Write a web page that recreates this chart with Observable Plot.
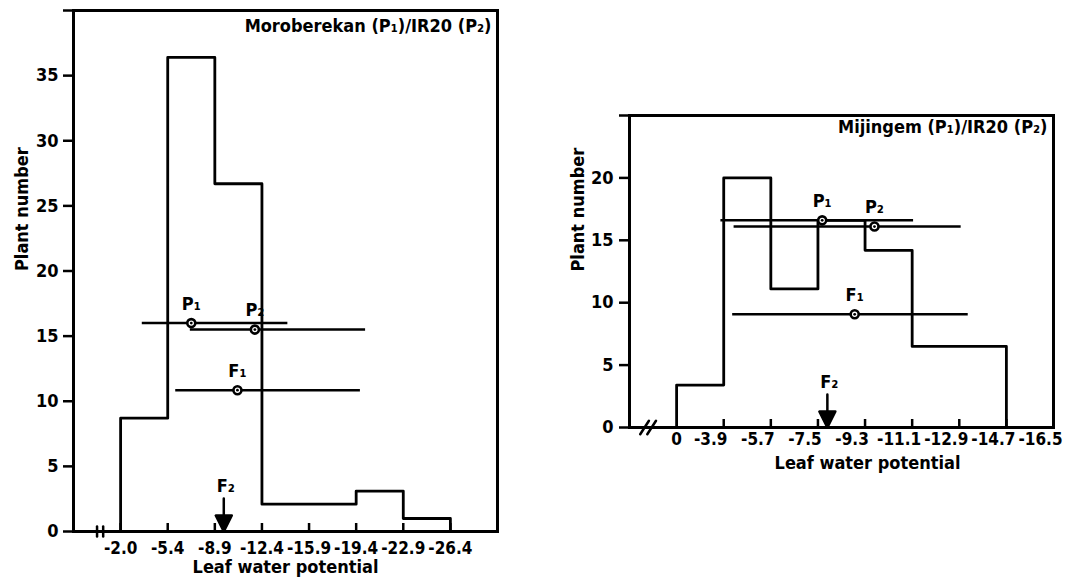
<!DOCTYPE html>
<html><head><meta charset="utf-8">
<script src="https://cdn.jsdelivr.net/npm/d3@7"></script>
<script src="https://cdn.jsdelivr.net/npm/@observablehq/plot@0.6"></script>
<style>
html,body{margin:0;padding:0;background:#fff;}
#wrap{position:relative;width:1065px;height:584px;overflow:hidden;background:#fff;}
#left{position:absolute;left:0;top:0;}
#right{position:absolute;left:540px;top:0;}
svg{overflow:visible}
</style></head><body>
<div id="wrap"><div id="left"></div><div id="right"></div></div>
<script>
// ---- Left panel: Moroberekan (P1) / IR20 (P2)
const leftTitle = "Moroberekan (P₁)/IR20 (P₂)";
const leftEdges = ["-2.0","-5.4","-8.9","-12.4","-15.9","-19.4","-22.9","-26.4"];
const leftCounts = [8.7, 36.4, 26.7, 2.1, 2.1, 3.1, 1.0];
const leftMarkers = ["P₁","P₂","F₁"];
const leftMeans = [1.5, 2.85, 2.48];      // position on the binned axis (edge index units)
const leftMeanY = [16.0, 15.5, 10.85];
const leftLow = [0.46, 1.48, 1.17];
const leftHigh = [3.55, 5.2, 5.09];
const leftF2 = [2.19];
const leftYTicks = [0, 5, 10, 15, 20, 25, 30, 35, 40];
const leftBreak = [-0.50, -0.37];

// ---- Right panel: Mijingem (P1) / IR20 (P2)
const rightTitle = "Mijingem (P₁)/IR20 (P₂)";
const rightEdges = ["0","-3.9","-5.7","-7.5","-9.3","-11.1","-12.9","-14.7","-16.5"];
const rightCounts = [3.4, 20.0, 11.1, 16.6, 14.2, 6.5, 6.5];
const rightMarkers = ["P₁","P₂","F₁"];
const rightMeans = [3.09, 4.2, 3.78];
const rightMeanY = [16.6, 16.1, 9.07];
const rightLow = [0.94, 1.22, 1.19];
const rightHigh = [5.03, 6.04, 6.19];
const rightF2 = [3.2];
const rightYTicks = [0, 5, 10, 15, 20, 25];
const rightBreak = [-0.68, -0.53];

const FONT = "'DejaVu Sans Condensed', 'Liberation Sans Narrow', 'DejaVu Sans', sans-serif";

const lineShape = {draw(ctx, l) { ctx.moveTo(0, 0); ctx.lineTo(0, -l); }};
const arrowShape = {draw(ctx, l) {
  ctx.moveTo(0, 0); ctx.lineTo(0, -l + 12);
  ctx.moveTo(-8, -l + 16); ctx.lineTo(0, -l); ctx.lineTo(8, -l + 16); ctx.closePath();
}};

function steps(counts) {
  const pts = [{x: 0, y: 0}];
  counts.forEach((c, i) => pts.push({x: i, y: c}));
  pts.push({x: counts.length, y: 0});
  return pts;
}

function panel(o) {
  const idx = d3.range(o.markers.length);
  const nEdges = o.edges.length;
  const labelTicks = o.zeroSeparate ? d3.range(1, nEdges) : d3.range(nEdges);
  const marks = [
    Plot.frame({strokeWidth: 3}),
    Plot.axisY({ticks: o.yTicks, tickSize: 10, tickPadding: o.yPad, strokeWidth: 2.5,
      tickFormat: d => d === o.yMax ? "" : d, label: null}),
    Plot.axisX({ticks: o.tickMarks, tickSize: -8, tickFormat: () => "", strokeWidth: 2.5, label: null}),
    Plot.axisX({ticks: labelTicks, tickSize: 0, tickPadding: o.xPad, dx: o.labelDx, fontSize: "17px",
      tickFormat: i => o.edges[i], label: null}),
    o.zeroSeparate ? Plot.axisX({ticks: [0], tickSize: 0, tickPadding: o.xPad, fontSize: "17px",
      tickFormat: i => o.edges[i], label: null}) : null,
    Plot.vector(o.breaks, {x: d => d, y: 0, length: o.breakLen, rotate: o.breakRot, anchor: "middle",
      shape: lineShape, stroke: "black", strokeWidth: 2.5}),
    Plot.line(steps(o.counts), {x: "x", y: "y", curve: "step-after", stroke: "black", strokeWidth: 2.8}),
    Plot.ruleY(idx, {y: i => o.meanY[i], x1: i => o.low[i], x2: i => o.high[i], stroke: "black", strokeWidth: 2.5}),
    Plot.dot(idx, {x: i => o.means[i], y: i => o.meanY[i], r: 4, stroke: "black", strokeWidth: 2.6, fill: "white"}),
    Plot.dot(idx, {x: i => o.means[i], y: i => o.meanY[i], r: 1.4, fill: "black"}),
    Plot.text(idx, {x: i => o.means[i], y: i => o.meanY[i], text: i => o.markers[i], dy: -19, fill: "black"}),
    Plot.vector(o.f2, {x: d => d, y: 0, length: 33, rotate: 180, anchor: "end", shape: arrowShape,
      stroke: "black", fill: "black", strokeWidth: 2.5}),
    Plot.text(o.f2, {x: d => d, y: 0, text: () => "F₂", dy: -45, dx: 2, fill: "black"}),
    Plot.text([o.title], {frameAnchor: "top-right", textAnchor: "end", lineAnchor: "top",
      dx: -6, dy: o.titleDy, text: d => d, fill: "black"}),
    Plot.text(["Plant number"], {frameAnchor: "left", rotate: -90, dx: -51, text: d => d, fill: "black"}),
    Plot.text(["Leaf water potential"], {frameAnchor: "bottom", dy: 41, dx: o.xLabelDx, text: d => d, fill: "black"})
  ].filter(Boolean);
  return Plot.plot({
    width: o.width, height: 584,
    marginLeft: o.ml, marginRight: o.mr, marginTop: o.mt, marginBottom: o.mb,
    x: {domain: [-1, 8], axis: null},
    y: {domain: [0, o.yMax], axis: null},
    style: {fontFamily: FONT, fontStretch: "condensed", fontWeight: "bold", fontSize: "18px",
      color: "black", background: "transparent", overflow: "visible"},
    marks
  });
}

document.getElementById("left").appendChild(panel({
  title: leftTitle, edges: leftEdges, counts: leftCounts, markers: leftMarkers,
  means: leftMeans, meanY: leftMeanY, low: leftLow, high: leftHigh, f2: leftF2,
  yTicks: leftYTicks, yMax: 40, breaks: leftBreak, breakLen: 10, breakRot: 0,
  tickMarks: d3.range(0, 8), zeroSeparate: false, labelDx: 0, xPad: 10, yPad: 5,
  titleDy: 9, xLabelDx: 0,
  width: 520, ml: 73, mr: 23, mt: 10, mb: 53
}));
document.getElementById("right").appendChild(panel({
  title: rightTitle, edges: rightEdges, counts: rightCounts, markers: rightMarkers,
  means: rightMeans, meanY: rightMeanY, low: rightLow, high: rightHigh, f2: rightF2,
  yTicks: rightYTicks, yMax: 25, breaks: rightBreak, breakLen: 16, breakRot: 33,
  tickMarks: d3.range(1, 8), zeroSeparate: true, labelDx: -13, xPad: 5, yPad: 6,
  titleDy: 5, xLabelDx: 26,
  width: 525, ml: 89, mr: 12, mt: 115, mb: 157
}));
</script>
</body></html>
